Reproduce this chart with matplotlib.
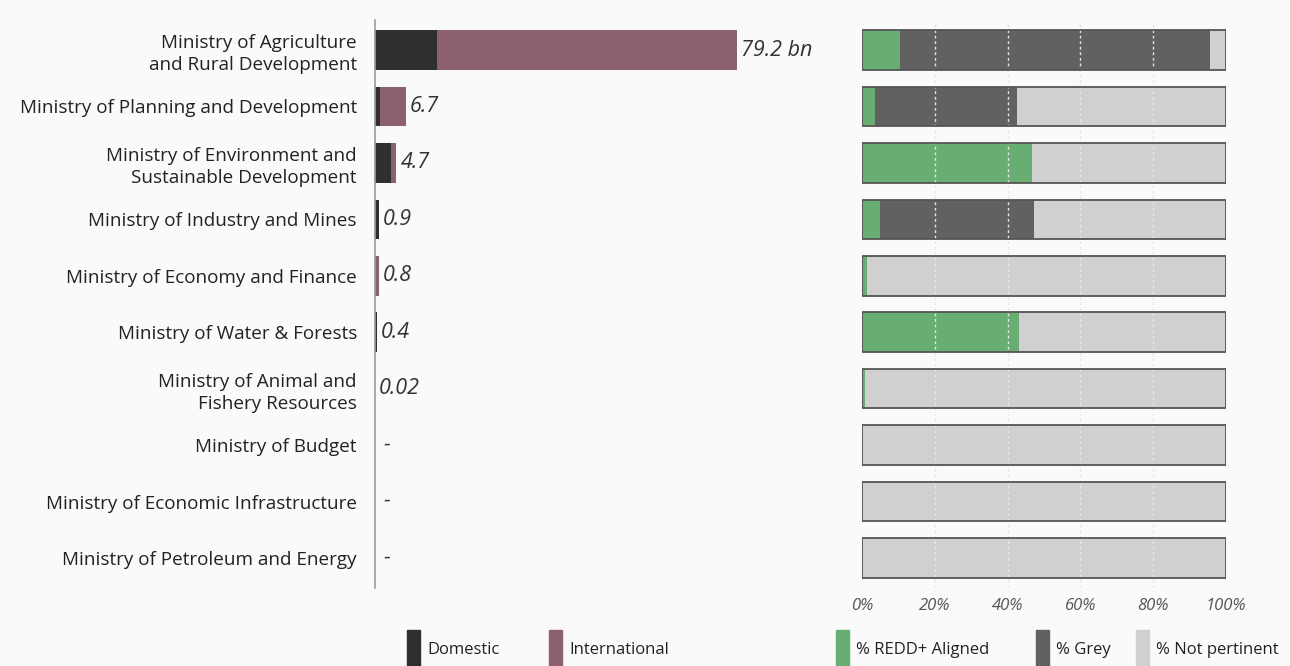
import matplotlib.pyplot as plt
from matplotlib.patches import Rectangle

ministries = [
    "Ministry of Agriculture\nand Rural Development",
    "Ministry of Planning and Development",
    "Ministry of Environment and\nSustainable Development",
    "Ministry of Industry and Mines",
    "Ministry of Economy and Finance",
    "Ministry of Water & Forests",
    "Ministry of Animal and\nFishery Resources",
    "Ministry of Budget",
    "Ministry of Economic Infrastructure",
    "Ministry of Petroleum and Energy",
]
domestic = [13.6, 1.1, 3.4, 0.9, 0.0, 0.4, 0.0, 0, 0, 0]
international = [65.6, 5.6, 1.3, 0.0, 0.8, 0.0, 0.02, 0, 0, 0]
value_labels = ["79.2 bn", "6.7", "4.7", "0.9", "0.8", "0.4", "0.02", "-", "-", "-"]

aligned = [10.4, 3.6, 46.7, 5.0, 1.4, 43.0, 0.8, 0, 0, 0]
grey = [85.2, 39.0, 0.0, 42.3, 0.0, 0.0, 0.0, 0, 0, 0]
not_pertinent = [100 - a - g for a, g in zip(aligned, grey)]
pct_ticks = [0, 20, 40, 60, 80, 100]

c_dom = "#2f2f2f"
c_int = "#8b6172"
c_green = "#68ae72"
c_grey = "#616161"
c_np = "#d0d0d0"
bg = "#fafafa"

plt.rcParams['font.family'] = ['Open Sans', 'DejaVu Sans']

W, H = 1290, 666
fig = plt.figure(figsize=(12.9, 6.66), dpi=100, facecolor=bg)

top_px, bot_px = 20, 588
n = len(ministries)
y = list(range(n))
ylim = (9 + 30 / 56.44, -30 / 56.44)

# left panel: spending
axL = fig.add_axes([375 / W, 1 - bot_px / H, (830 - 375) / W, (bot_px - top_px) / H])
axL.set_facecolor(bg)
axL.barh(y, domestic, height=0.7, color=c_dom)
axL.barh(y, international, left=domestic, height=0.7, color=c_int)
axL.set_xlim(0, 455 / 4.57)
axL.set_ylim(*ylim)
for s in ["top", "right", "bottom"]:
    axL.spines[s].set_visible(False)
axL.spines["left"].set_color("#9a9a9a")
axL.spines["left"].set_linewidth(1.2)
axL.set_xticks([])
axL.set_yticks(y)
axL.set_yticklabels(ministries, fontsize=13.6, color="#222222", linespacing=1.3)
axL.tick_params(axis="y", length=0, pad=13)
for i in range(n):
    tot = domestic[i] + international[i]
    off = 0.9 if tot > 0 else 1.8
    axL.text(tot + off, i, value_labels[i], va="center", ha="left",
             fontsize=15.5, style="italic", color="#333333")

# right panel: alignment shares
axR = fig.add_axes([862 / W, 1 - bot_px / H, (1226 - 862) / W, (bot_px - top_px) / H])
axR.set_facecolor(bg)
left2 = [a + g for a, g in zip(aligned, grey)]
axR.barh(y, aligned, height=0.7, color=c_green, zorder=2)
axR.barh(y, grey, left=aligned, height=0.7, color=c_grey, zorder=2)
axR.barh(y, not_pertinent, left=left2, height=0.7, color=c_np, zorder=2)
axR.barh(y, [100] * n, height=0.7, fill=False, edgecolor="#555555", linewidth=1.3, zorder=4)
axR.set_xlim(0, 100)
axR.set_ylim(*ylim)
for s in axR.spines.values():
    s.set_visible(False)
axR.set_yticks([])
axR.set_xticks(pct_ticks)
axR.set_xticklabels([f"{t}%" for t in pct_ticks], fontsize=12, style="italic", color="#555555")
axR.tick_params(axis="x", length=0, pad=7)
for t in pct_ticks[1:-1]:
    axR.axvline(t, color="#e6e6e6", linestyle=(0, (2, 2)), linewidth=1.0, zorder=3)

# legend built from patches
legend_items = [
    (407, c_dom, "Domestic"),
    (549, c_int, "International"),
    (836, c_green, "% REDD+ Aligned"),
    (1036, c_grey, "% Grey"),
    (1136, c_np, "% Not pertinent"),
]
for x0, col, lab in legend_items:
    fig.patches.append(Rectangle((x0 / W, 0), 13 / W, 36 / H, transform=fig.transFigure,
                                 color=col, zorder=1))
    fig.text((x0 + 20) / W, 1 - 650 / H, lab, fontsize=12, color="#222222",
             va="center", ha="left")

fig.savefig("out.png", dpi=100, facecolor=bg)
